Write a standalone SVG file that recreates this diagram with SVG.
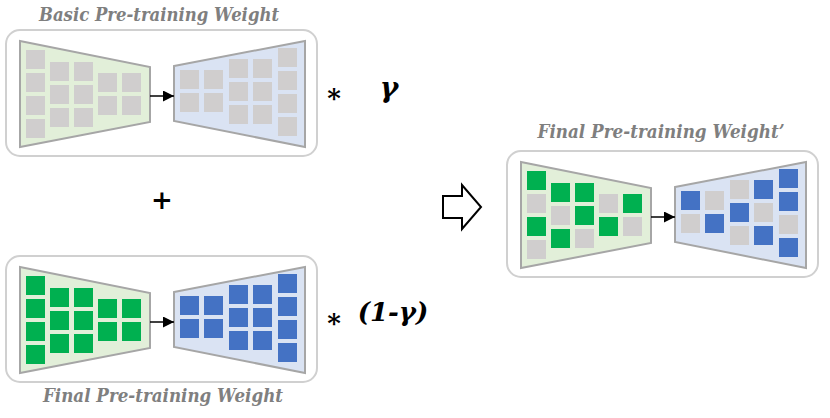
<svg xmlns="http://www.w3.org/2000/svg" width="830" height="418" viewBox="0 0 830 418">
<style>
.box{fill:#fff;stroke:#d0d0d0;stroke-width:2}
.enc{fill:#e2efd9;stroke:#a6a6a6;stroke-width:2}
.dec{fill:#dae3f3;stroke:#a6a6a6;stroke-width:2}
.g{fill:#d0cece}
.n{fill:#00b050}
.b{fill:#4472c4}
text{font-family:"DejaVu Serif","Liberation Serif",serif}
.lbl{font-weight:bold;font-style:italic;font-size:18.5px;fill:#7f7f7f;text-anchor:middle}
.op{font-weight:bold;fill:#000;text-anchor:middle}
.conn{stroke:#000;stroke-width:1.5;fill:none}
</style>
<defs>
<marker id="ah" viewBox="0 0 10 10" refX="10" refY="5" markerWidth="11" markerHeight="11" markerUnits="userSpaceOnUse" orient="auto">
<path d="M0,0 L10,5 L0,10 z" fill="#000"/>
</marker>
<g id="frame">
<rect class="box" x="6" y="30" width="311" height="126" rx="14"/>
<polygon class="enc" points="20,41 150,67 150,122 20,147"/>
<polygon class="dec" points="174,66 305,41 305,147 174,121"/>
</g>
</defs>

<g id="basic-weight">
<text class="lbl" x="159" y="21" textLength="240" lengthAdjust="spacingAndGlyphs">Basic Pre-training Weight</text>
<use href="#frame"/>
<g class="g">
<rect x="26" y="50" width="19" height="19"/><rect x="26" y="73" width="19" height="19"/><rect x="26" y="96" width="19" height="19"/><rect x="26" y="119" width="19" height="19"/>
<rect x="50" y="62" width="19" height="19"/><rect x="50" y="85" width="19" height="19"/><rect x="50" y="108" width="19" height="19"/>
<rect x="74" y="62" width="19" height="19"/><rect x="74" y="85" width="19" height="19"/><rect x="74" y="108" width="19" height="19"/>
<rect x="98" y="73" width="19" height="19"/><rect x="98" y="96" width="19" height="19"/>
<rect x="122" y="73" width="19" height="19"/><rect x="122" y="96" width="19" height="19"/>
<rect x="180" y="70" width="19" height="19"/><rect x="180" y="93" width="19" height="19"/>
<rect x="204" y="70" width="19" height="19"/><rect x="204" y="93" width="19" height="19"/>
<rect x="229" y="59" width="19" height="19"/><rect x="229" y="82" width="19" height="19"/><rect x="229" y="105" width="19" height="19"/>
<rect x="253" y="59" width="19" height="19"/><rect x="253" y="82" width="19" height="19"/><rect x="253" y="105" width="19" height="19"/>
<rect x="278" y="48" width="19" height="19"/><rect x="278" y="71" width="19" height="19"/><rect x="278" y="94" width="19" height="19"/><rect x="278" y="117" width="19" height="19"/>
</g>
</g>

<g id="final-weight" transform="translate(0,226)">
<use href="#frame"/>
<g class="n">
<rect x="26" y="50" width="19" height="19"/><rect x="26" y="73" width="19" height="19"/><rect x="26" y="96" width="19" height="19"/><rect x="26" y="119" width="19" height="19"/>
<rect x="50" y="62" width="19" height="19"/><rect x="50" y="85" width="19" height="19"/><rect x="50" y="108" width="19" height="19"/>
<rect x="74" y="62" width="19" height="19"/><rect x="74" y="85" width="19" height="19"/><rect x="74" y="108" width="19" height="19"/>
<rect x="98" y="73" width="19" height="19"/><rect x="98" y="96" width="19" height="19"/>
<rect x="122" y="73" width="19" height="19"/><rect x="122" y="96" width="19" height="19"/>
</g>
<g class="b">
<rect x="180" y="70" width="19" height="19"/><rect x="180" y="93" width="19" height="19"/>
<rect x="204" y="70" width="19" height="19"/><rect x="204" y="93" width="19" height="19"/>
<rect x="229" y="59" width="19" height="19"/><rect x="229" y="82" width="19" height="19"/><rect x="229" y="105" width="19" height="19"/>
<rect x="253" y="59" width="19" height="19"/><rect x="253" y="82" width="19" height="19"/><rect x="253" y="105" width="19" height="19"/>
<rect x="278" y="48" width="19" height="19"/><rect x="278" y="71" width="19" height="19"/><rect x="278" y="94" width="19" height="19"/><rect x="278" y="117" width="19" height="19"/>
</g>
<text class="lbl" x="163" y="176" textLength="240" lengthAdjust="spacingAndGlyphs">Final Pre-training Weight</text>
</g>

<g id="merged-weight" transform="translate(501,121)">
<text class="lbl" x="160" y="17" textLength="247" lengthAdjust="spacingAndGlyphs">Final Pre-training Weight’</text>
<use href="#frame"/>
<rect class="n" x="26" y="50" width="19" height="19"/><rect class="g" x="26" y="73" width="19" height="19"/><rect class="n" x="26" y="96" width="19" height="19"/><rect class="g" x="26" y="119" width="19" height="19"/>
<rect class="n" x="50" y="62" width="19" height="19"/><rect class="g" x="50" y="85" width="19" height="19"/><rect class="n" x="50" y="108" width="19" height="19"/>
<rect class="n" x="74" y="62" width="19" height="19"/><rect class="n" x="74" y="85" width="19" height="19"/><rect class="g" x="74" y="108" width="19" height="19"/>
<rect class="g" x="98" y="73" width="19" height="19"/><rect class="n" x="98" y="96" width="19" height="19"/>
<rect class="n" x="122" y="73" width="19" height="19"/><rect class="g" x="122" y="96" width="19" height="19"/>
<rect class="b" x="180" y="70" width="19" height="19"/><rect class="g" x="180" y="93" width="19" height="19"/>
<rect class="g" x="204" y="70" width="19" height="19"/><rect class="b" x="204" y="93" width="19" height="19"/>
<rect class="g" x="229" y="59" width="19" height="19"/><rect class="b" x="229" y="82" width="19" height="19"/><rect class="g" x="229" y="105" width="19" height="19"/>
<rect class="b" x="253" y="59" width="19" height="19"/><rect class="g" x="253" y="82" width="19" height="19"/><rect class="b" x="253" y="105" width="19" height="19"/>
<rect class="b" x="278" y="48" width="19" height="19"/><rect class="b" x="278" y="71" width="19" height="19"/><rect class="g" x="278" y="94" width="19" height="19"/><rect class="b" x="278" y="117" width="19" height="19"/>
</g>

<g id="operators">
<text class="op" x="334" y="107" font-size="26">*</text>
<text class="op" x="389" y="97" font-size="28" font-style="italic">γ</text>
<text class="op" x="162" y="209" font-size="26" font-weight="normal">+</text>
<text class="op" x="334" y="332" font-size="26">*</text>
<text class="op" x="393" y="321" font-size="26" font-style="italic">(1-γ)</text>
</g>

<g id="connectors">
<line class="conn" x1="150" y1="96" x2="174" y2="96" marker-end="url(#ah)"/>
<line class="conn" x1="150" y1="322" x2="174" y2="322" marker-end="url(#ah)"/>
<line class="conn" x1="651" y1="217" x2="675" y2="217" marker-end="url(#ah)"/>
<polygon points="443,196 462,196 462,185 481,207 462,229 462,218 443,218" fill="#fff" stroke="#000" stroke-width="2"/>
</g>
</svg>
